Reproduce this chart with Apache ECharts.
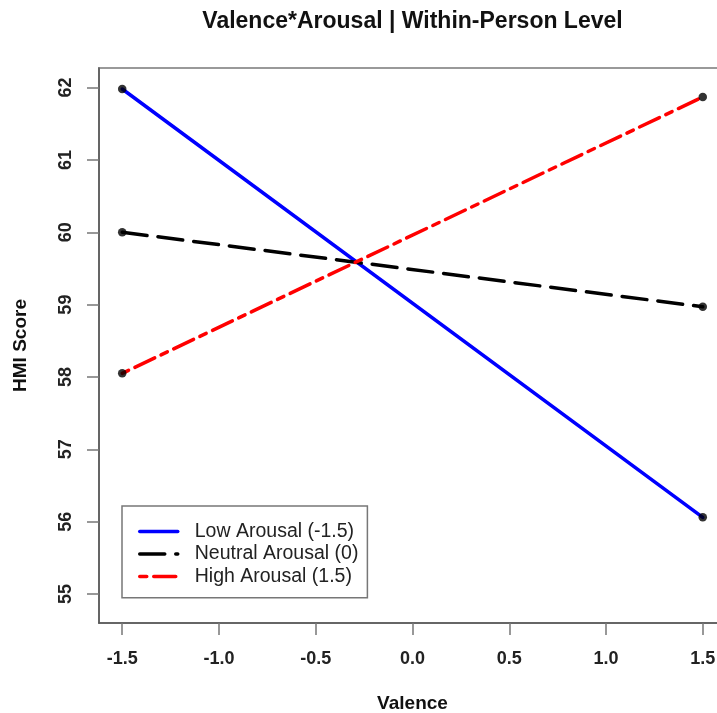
<!DOCTYPE html>
<html>
<head>
<meta charset="utf-8">
<script src="https://cdn.jsdelivr.net/npm/echarts@6/dist/echarts.min.js"></script>
<style>
html,body{margin:0;padding:0;background:#fff;}
#chart{width:717px;height:713px;}
</style>
</head>
<body>
<div id="chart"></div>
<script>
const valence = [-1.5, 1.5];
const lowArousal = [61.98, 56.06];
const neutralArousal = [60.00, 58.97];
const highArousal = [58.05, 61.87];
const seriesNames = ['Low Arousal (-1.5)', 'Neutral Arousal (0)', 'High Arousal (1.5)'];
const xTicks = [-1.5, -1.0, -0.5, 0.0, 0.5, 1.0, 1.5];
const yTicks = [55, 56, 57, 58, 59, 60, 61, 62];

const FONT = 'Liberation Sans, Arial, Helvetica, sans-serif';
const pairs = (ys) => valence.map((x, i) => [x, ys[i]]);

const groups = [
  { name: seriesNames[0], values: lowArousal, color: '#0000FF', dash: 'solid' },
  { name: seriesNames[1], values: neutralArousal, color: '#000000', dash: [25, 11] },
  { name: seriesNames[2], values: highArousal, color: '#FF0000', dash: [7, 7, 22, 7] }
];

const series = [];
groups.forEach(g => {
  series.push({
    name: g.name,
    type: 'line',
    data: pairs(g.values),
    symbol: 'none',
    lineStyle: { color: g.color, width: 3.5, type: g.dash, cap: 'round' },
    itemStyle: { color: g.color },
    z: 2
  });
});
groups.forEach(g => {
  series.push({
    name: g.name + ' points',
    type: 'scatter',
    data: pairs(g.values),
    symbol: 'circle',
    symbolSize: 8.5,
    itemStyle: { color: '#000' },
    z: 3
  });
});

const chart = echarts.init(document.getElementById('chart'), null, { renderer: 'canvas' });
chart.setOption({
  animation: false,
  backgroundColor: '#fff',
  title: {
    text: 'Valence*Arousal | Within-Person Level',
    left: 412.5,
    top: 10,
    padding: 0,
    textAlign: 'center',
    textStyle: { fontFamily: FONT, fontSize: 23, fontWeight: 'bold', color: '#111' }
  },
  grid: {
    left: 99, top: 68, width: 627, height: 555,
    show: true, borderColor: '#999', borderWidth: 2, containLabel: false,
    outerBoundsMode: 'none'
  },
  legend: {
    data: seriesNames,
    orient: 'vertical',
    left: 122, top: 506,
    padding: [14.25, 9, 10, 16],
    itemGap: 0,
    itemWidth: 38,
    itemHeight: 14,
    borderColor: '#777',
    borderWidth: 1.5,
    backgroundColor: '#fff',
    itemStyle: { opacity: 0 },
    lineStyle: { width: 3.5 },
    textStyle: { fontFamily: FONT, fontSize: 19.5, color: '#222', lineHeight: 22.5, padding: [0, 0, 0, 12] }
  },
  xAxis: {
    type: 'value',
    min: -1.62, max: 1.62,
    name: 'Valence',
    nameLocation: 'middle',
    nameGap: 71,
    nameTextStyle: { fontFamily: FONT, fontSize: 19, fontWeight: 'bold', color: '#111' },
    splitLine: { show: false },
    axisLine: { show: true, onZero: false, lineStyle: { color: '#555', width: 1.5 } },
    axisTick: { show: true, length: 12, lineStyle: { color: '#777', width: 1.5 }, customValues: xTicks },
    axisLabel: {
      customValues: xTicks,
      margin: 27,
      fontFamily: FONT, fontSize: 18, fontWeight: 'bold', color: '#222',
      formatter: v => Number(v).toFixed(1)
    }
  },
  yAxis: {
    type: 'value',
    min: 54.6, max: 62.27,
    name: 'HMI Score',
    nameLocation: 'middle',
    nameGap: 69,
    nameTextStyle: { fontFamily: FONT, fontSize: 19, fontWeight: 'bold', color: '#111' },
    splitLine: { show: false },
    axisLine: { show: true, onZero: false, lineStyle: { color: '#555', width: 1.5 } },
    axisTick: { show: true, length: 12, lineStyle: { color: '#777', width: 1.5 }, customValues: yTicks },
    axisLabel: {
      customValues: yTicks,
      rotate: 90,
      margin: 24,
      fontFamily: FONT, fontSize: 18, fontWeight: 'bold', color: '#222',
      formatter: v => String(Math.round(v))
    }
  },
  series: series
});
</script>
</body>
</html>
